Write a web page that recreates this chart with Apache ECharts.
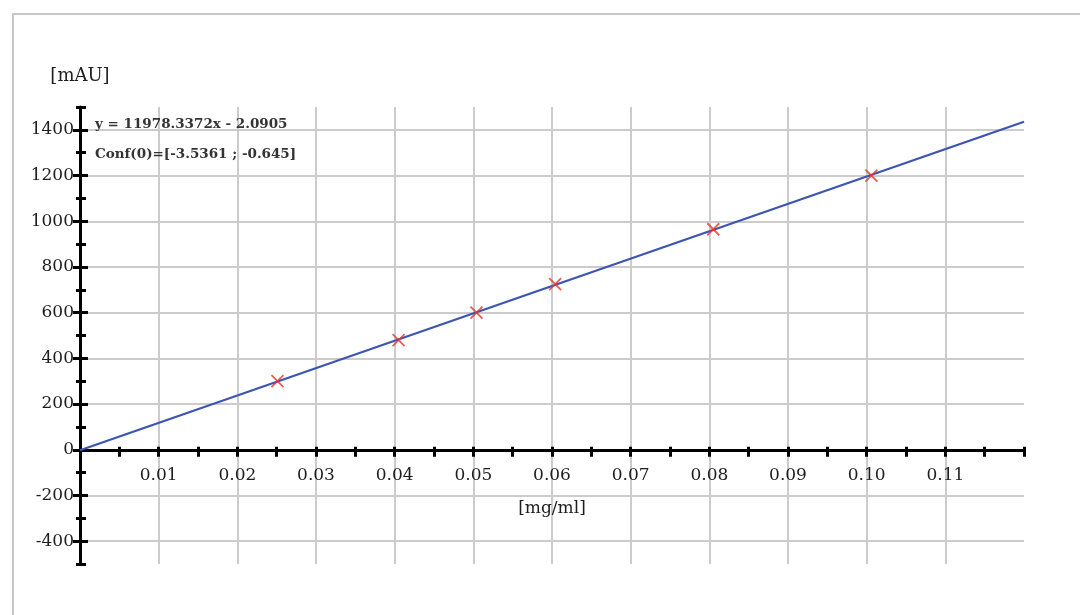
<!DOCTYPE html>
<html>
<head>
<meta charset="utf-8">
<script src="https://cdn.jsdelivr.net/npm/echarts@6/dist/echarts.min.js"></script>
<style>
html,body{margin:0;padding:0;background:#fff;}
#chart{width:1080px;height:615px;}
</style>
</head>
<body>
<div id="chart"></div>
<script>
// ---- data ----
const concentrations = [0.0251, 0.0405, 0.0504, 0.0604, 0.0805, 0.1006]; // mg/ml
const responses = [300, 480, 600, 725, 965, 1200]; // mAU
const fitX = [0, 0.12];
const fitY = [-2.09, 1435.3];
const equationText = 'y = 11978.3372x - 2.0905';
const confText = 'Conf(0)=[-3.5361 ; -0.645]';
const xName = '[mg/ml]';
const yName = '[mAU]';

const measured = concentrations.map((c, i) => [c, responses[i]]);
const fitLine = fitX.map((x, i) => [x, fitY[i]]);

const serif = 'DejaVu Serif';
const txt = '#1e1e1e';

function xLabel(v) {
  const k = Math.round(v * 1000);
  if (k % 10 !== 0 || k === 0 || k >= 120) return '';
  return (k / 1000).toFixed(2);
}
function yLabel(v) {
  const k = Math.round(v);
  if (k % 200 !== 0) return '';
  return String(k);
}

// plot geometry: y from -500 (bottom) to 1500 (top)
const G = {left: 80, right: 56, top: 107, bottom: 51};
const plotH = 615 - G.top - G.bottom;
const pxPerUnit = plotH / 2000;
const zeroY = G.top + 1500 * pxPerUnit;

const chart = echarts.init(document.getElementById('chart'), null, {renderer: 'canvas'});
chart.setOption({
  animation: false,
  backgroundColor: '#fff',
  grid: [
    {left: G.left, right: G.right, top: G.top, bottom: G.bottom, outerBoundsMode: 'none', containLabel: false},
    {left: G.left, right: G.right, top: G.top, bottom: 615 - zeroY, outerBoundsMode: 'none', containLabel: false},
    {left: G.left, right: G.right, top: G.top + 100 * pxPerUnit, bottom: G.bottom + 100 * pxPerUnit, outerBoundsMode: 'none', containLabel: false}
  ],
  graphic: [
    {type: 'rect', shape: {x: 13, y: 14, width: 1080, height: 620}, style: {fill: 'none', stroke: '#c8c8c8', lineWidth: 2}, z: -10},
    {type: 'text', left: 95, top: 117, style: {text: equationText, font: 'bold 13.5px "DejaVu Serif"', fill: '#333'}, z: 10},
    {type: 'text', left: 95, top: 147, style: {text: confText, font: 'bold 13.5px "DejaVu Serif"', fill: '#333'}, z: 10}
  ],
  xAxis: [
    {
      gridIndex: 0, type: 'value', min: 0, max: 0.12, interval: 0.005, position: 'bottom',
      axisLine: {show: false, onZero: false},
      axisTick: {show: false},
      axisLabel: {show: false},
      splitLine: {show: true, showMaxLine: false, lineStyle: {color: ['#cccccc', 'rgba(0,0,0,0)'], width: 2}}
    },
    {
      gridIndex: 1, type: 'value', min: 0, max: 0.12, interval: 0.005, position: 'bottom',
      name: xName, nameLocation: 'middle', nameGap: 50,
      nameTextStyle: {fontFamily: serif, fontSize: 17, color: txt},
      axisLine: {show: true, onZero: false, lineStyle: {color: '#000', width: 3}},
      axisTick: {show: true, length: 7, lineStyle: {color: '#000', width: 3}},
      axisLabel: {show: true, formatter: xLabel, margin: 17, fontFamily: serif, fontSize: 17, color: txt},
      splitLine: {show: false}
    },
    {
      gridIndex: 1, type: 'value', min: 0, max: 0.12, interval: 0.005, position: 'bottom',
      axisLine: {show: false, onZero: false},
      axisTick: {show: true, inside: true, length: 3, lineStyle: {color: '#000', width: 3}},
      axisLabel: {show: false},
      splitLine: {show: false}
    },
    {gridIndex: 2, type: 'value', min: 0, max: 1, show: false}
  ],
  yAxis: [
    {
      gridIndex: 0, type: 'value', min: -500, max: 1500, interval: 100, position: 'left',
      name: yName, nameLocation: 'end', nameGap: 22,
      nameTextStyle: {fontFamily: serif, fontSize: 18, color: txt, align: 'center'},
      axisLine: {show: true, onZero: false, lineStyle: {color: '#000', width: 3}},
      axisTick: {show: true, length: 4, lineStyle: {color: '#000', width: 3}},
      axisLabel: {show: true, formatter: yLabel, margin: 6, fontFamily: serif, fontSize: 17, color: txt},
      splitLine: {show: true, lineStyle: {color: ['rgba(0,0,0,0)', '#cccccc'], width: 2}}
    },
    {
      gridIndex: 0, type: 'value', min: -500, max: 1500, interval: 100, position: 'left',
      axisLine: {show: false, onZero: false},
      axisTick: {show: true, inside: true, length: 6, lineStyle: {color: '#000', width: 3}},
      axisLabel: {show: false},
      splitLine: {show: false}
    },
    {gridIndex: 1, type: 'value', min: 0, max: 1, show: false},
    {
      gridIndex: 2, type: 'value', min: -400, max: 1400, interval: 200, position: 'left',
      axisLine: {show: false, onZero: false},
      axisTick: {show: true, length: 7, lineStyle: {color: '#000', width: 3}},
      axisLabel: {show: false},
      splitLine: {show: false}
    },
    {
      gridIndex: 2, type: 'value', min: -400, max: 1400, interval: 200, position: 'left',
      axisLine: {show: false, onZero: false},
      axisTick: {show: true, inside: true, length: 8, lineStyle: {color: '#000', width: 3}},
      axisLabel: {show: false},
      splitLine: {show: false}
    }
  ],
  series: [
    {
      type: 'line', name: 'fit', data: fitLine, xAxisIndex: 0, yAxisIndex: 0,
      showSymbol: false, symbol: 'none',
      lineStyle: {color: '#3a55b3', width: 2.2}, z: 3
    },
    {
      type: 'scatter', name: 'standards', data: measured, xAxisIndex: 0, yAxisIndex: 0,
      symbol: 'path://M0,0L10,10M10,0L0,10', symbolSize: 12,
      itemStyle: {color: 'rgba(0,0,0,0)', borderColor: '#e8332b', borderWidth: 1.8},
      z: 4
    }
  ]
});
</script>
</body>
</html>
